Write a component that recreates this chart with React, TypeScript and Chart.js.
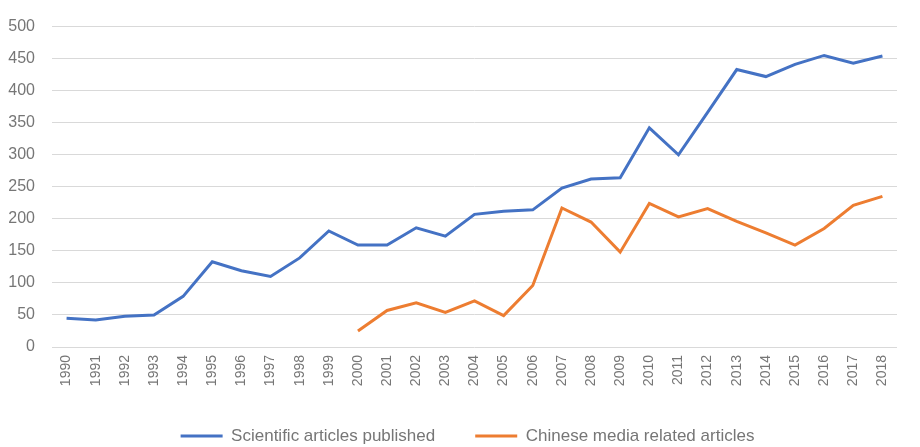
import React, { useEffect, useRef } from "react";
import { Chart, registerables } from "chart.js";

Chart.register(...registerables);

const years = [
  "1990", "1991", "1992", "1993", "1994", "1995", "1996", "1997", "1998", "1999",
  "2000", "2001", "2002", "2003", "2004", "2005", "2006", "2007", "2008", "2009",
  "2010", "2011", "2012", "2013", "2014", "2015", "2016", "2017", "2018",
];

const scientificArticles = [
  45, 42, 48, 50, 79, 133, 119, 110, 139, 181,
  159, 159, 186, 173, 207, 212, 214, 248, 262, 264,
  342, 300, 366, 433, 422, 441, 455, 443, 454,
];

const chineseMediaArticles = [
  null, null, null, null, null, null, null, null, null, null,
  25, 57, 69, 54, 72, 49, 96, 217, 195, 148,
  224, 203, 216, 196, 178, 159, 185, 221, 235,
];

const seriesNames = ["Scientific articles published", "Chinese media related articles"];

const shiftLegend = {
  id: "shiftLegend",
  afterLayout(chart: any) {
    const l = chart.legend;
    if (l) {
      l.left += 19;
      l.right += 19;
    }
  },
};

export default function App() {
  const ref = useRef<HTMLCanvasElement>(null);

  useEffect(() => {
    if (!ref.current) return;
    const font = "'Liberation Sans', Arial, sans-serif";
    const textColor = "#767676";
    const chart = new Chart(ref.current, {
      type: "line",
      data: {
        labels: years,
        datasets: [
          {
            label: seriesNames[0],
            data: scientificArticles,
            borderColor: "#4472C4",
            backgroundColor: "#4472C4",
            borderWidth: 3,
            pointRadius: 0,
            tension: 0,
          },
          {
            label: seriesNames[1],
            data: chineseMediaArticles,
            borderColor: "#ED7D31",
            backgroundColor: "#ED7D31",
            borderWidth: 3,
            pointRadius: 0,
            tension: 0,
          },
        ],
      },
      plugins: [shiftLegend],
      options: {
        responsive: false,
        animation: false,
        layout: { autoPadding: false, padding: { left: 0, right: 23, top: 23.5, bottom: -7.5 } },
        plugins: {
          tooltip: { enabled: false },
          legend: {
            position: "bottom",
            labels: {
              usePointStyle: true,
              pointStyle: "line",
              pointStyleWidth: 42,
              boxHeight: 17,
              color: textColor,
              font: { family: font, size: 17 },
              padding: 40,
            },
          },
        },
        scales: {
          x: {
            offset: true,
            grid: { display: false, drawTicks: false },
            border: { display: false },
            ticks: {
              color: textColor,
              font: { family: font, size: 14 },
              minRotation: 90,
              maxRotation: 90,
              autoSkip: false,
              padding: 8,
            },
            afterFit: (s: any) => {
              s.height = 40.5;
            },
          },
          y: {
            min: 0,
            max: 500,
            grid: { color: "#D9D9D9", lineWidth: 1, drawTicks: false },
            border: { display: false },
            ticks: {
              stepSize: 50,
              color: textColor,
              font: { family: font, size: 16 },
              padding: 17,
            },
            afterFit: (s: any) => {
              s.width = 52;
            },
          },
        },
      },
    });
    return () => chart.destroy();
  }, []);

  return (
    <div style={{ position: "absolute", left: 0, top: 0, width: 920, height: 447, background: "#fff" }}>
      <canvas ref={ref} width={920} height={447} />
    </div>
  );
}
